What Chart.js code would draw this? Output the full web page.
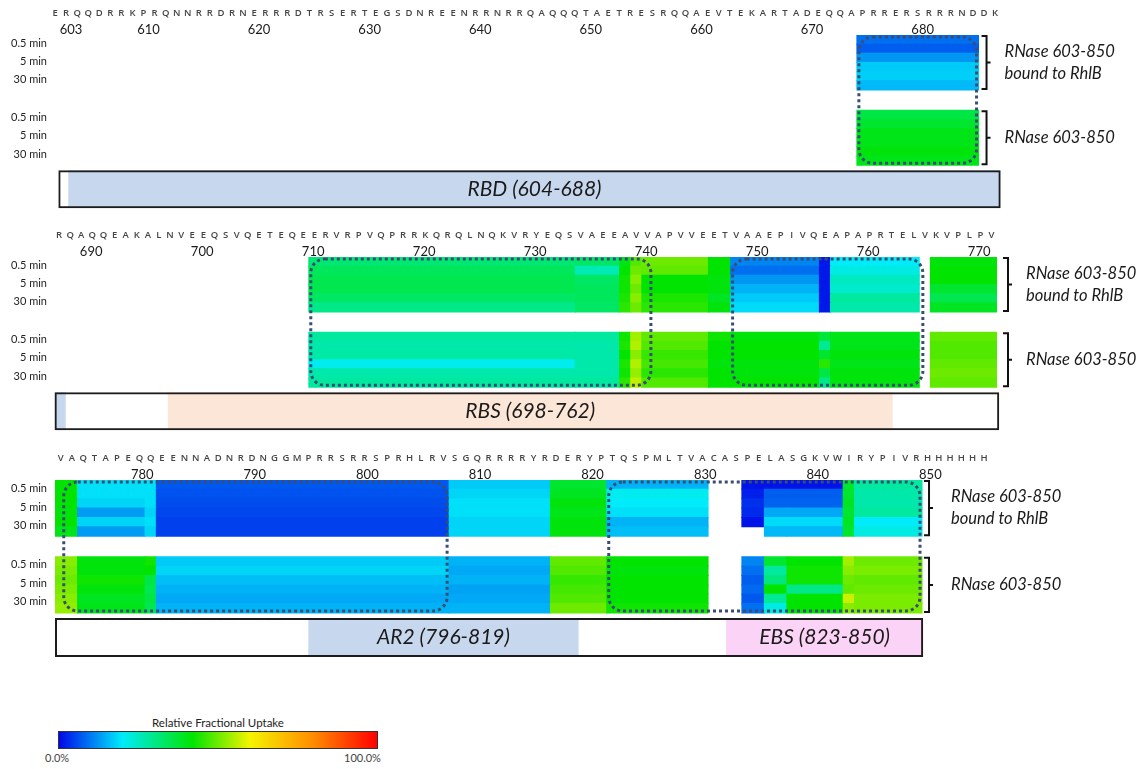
<!DOCTYPE html>
<html>
<head>
<meta charset="utf-8">
<title>RNase E 603-850 HDX heat map</title>
<script src="https://cdn.jsdelivr.net/npm/chart.js@4.4.0/dist/chart.umd.min.js"></script>
<style>
  body { margin: 0; background: #fff; width: 1140px; height: 769px; position: relative; overflow: hidden; font-family: Lato, "Open Sans", sans-serif; }
  canvas { position: absolute; left: 0; }
  .legend-title { position: absolute; left: 58px; width: 320px; top: 716px; text-align: center; font-size: 11.5px; color: #222; }
  .legend-bar { position: absolute; left: 58px; top: 731px; width: 318px; height: 16px; border: 1px solid #333; }
  .legend-lo, .legend-hi { position: absolute; top: 751px; font-size: 11px; color: #444; }
  .legend-lo { left: 45px; }
  .legend-hi { left: 344px; }
</style>
</head>
<body>
<canvas id="panel1" width="1140" height="215" style="top:0px"></canvas>
<canvas id="panel2" width="1140" height="215" style="top:222px"></canvas>
<canvas id="panel3" width="1140" height="219" style="top:445px"></canvas>
<div class="legend-title">Relative Fractional Uptake</div>
<div class="legend-bar" id="legendBar"></div>
<div class="legend-lo">0.0%</div>
<div class="legend-hi">100.0%</div>
<script>
// ---- data ----
const timeLabels = ['0.5 min', '5 min', '30 min'];
const stateLabels = [['RNase 603-850', 'bound to RhlB'], ['RNase 603-850']];

// panel 1 : residues 603-688
const seq1 = 'ERQQDRRKPRQNNRRDRNERRRDTRSERTEGS' + 'DNREENRRNRRQAQQQTAETRESRQQAEVTEKARTADE' + 'QQAPRRERSRRRNDDK';
const start1 = 603;
const numbers1 = [603, 610, 620, 630, 640, 650, 660, 670, 680];
const cols1 = [[676, 686]];
const bound1 = [[9], [7.5], [12.5], [17], [17.5], [15.5]];
const free1 = [[36], [38], [40], [40], [41], [40]];
const outlines1 = [[676, 686]];
const box1 = [603.3, 688.5];
const domains1 = [[604.2, 688.5]];
const domainNames1 = ['RBD (604-688)'];

// panel 2 : residues 689-773
const seq2 = 'RQAQQEAKALNVEEQSVQETEQEERVRPVQPRRKQRQLNQKVRYEQSVAEEAVVAPVVEETVAAEPIVQEAPAPRTELVKVPLPV';
const start2 = 689;
const numbers2 = [690, 700, 710, 720, 730, 740, 750, 760, 770];
const cols2 = [[712, 735], [736, 739], [740, 740], [741, 741], [742, 747], [748, 749], [750, 757], [758, 758], [759, 766], [768, 773]];
const bound2 = [
  [32, 33, 40, 48, 50, 42, 11, 1.5, 20, 41],
  [34, 26, 42, 50, 49, 42, 9, 1.5, 22, 42],
  [35, 33, 43, 52, 42, 41, 12.5, 1.5, 25, 42],
  [35, 34, 43, 50, 42, 41, 15, 1.5, 24, 38],
  [33, 34, 44, 52, 44, 39, 17, 1.5, 28, 35],
  [30, 33, 45, 50, 45, 41, 18.5, 1.5, 27, 39]
];
const free2 = [
  [28, 28, 43, 54, 49, 43, 41, 37, 40, 49],
  [27, 27, 44, 55, 48, 42, 42, 29, 40, 48],
  [27.5, 27, 42, 52, 46, 42, 42, 38, 41, 48],
  [21, 27, 44, 55, 47, 41, 41, 45, 40, 49],
  [27, 27, 43, 53, 45, 42, 41, 36, 41, 50],
  [28, 28, 45, 56, 48, 42, 42, 30, 41, 49]
];
const outlines2 = [[712, 742], [750, 766.5]];
const box2 = [688.6, 773.7];
const domains2 = [[688.6, 689.6], [698.8, 764.1]];
const domainNames2 = ['', 'RBS (698-762)'];

// panel 3 : residues 774-850 (+ His tag)
const seq3 = 'VAQTAPEQQEENNADNRDNGGMPRRSRRSPRHLRVSGQRRRRYRDERYPTQSPMLTVACASPELASGKVWIRYPIVRHHHHHH';
const start3 = 774;
const numbers3 = [780, 790, 800, 810, 820, 830, 840, 850];
const cols3 = [[774, 775], [776, 781], [782, 782], [783, 808], [809, 817], [818, 822], [823, 831], [835, 836], [837, 838], [839, 843], [844, 844], [845, 850]];
const bound3 = [
  [42, 19, 19, 7, 17, 38, 15, 1, 1, 1, 38, 28],
  [42, 19, 19, 6.5, 18, 39, 21, 2, 7.5, 7.5, 38, 27],
  [42, 18, 19, 6, 19, 41, 20, 3.5, 8, 8, 39, 27],
  [41, 13, 18, 5.5, 19, 40, 19, 3, 14, 14, 38, 28],
  [42, 18, 19, 5, 18, 41, 15, 1, 18.5, 18.5, 39, 20],
  [40, 13, 18, 5, 18, 41, 16, null, 15.5, 15.5, 38, 22]
];
const free3 = [
  [52, 41, 43, 17, 15, 49, 42, 11, 38, 42, 54, 50],
  [51, 41, 42, 18, 14, 48, 41, 9, 28, 43, 52, 51],
  [50, 43, 36, 16, 15, 46, 42, 7.5, 31, 43, 50, 49],
  [51, 41, 35, 15, 13.5, 47, 42, 8.5, 42, 30, 49, 50],
  [52, 39, 36, 14, 14, 48, 42, 7, 29, 42, 57, 51],
  [53, 40, 35, 15, 15, 50, 43, 9, 22, 42, 52, 51]
];
const outlines3 = [[774.6, 808], [823, 850]];
const box3 = [773.5, 850.6];
const domains3 = [[796.0, 820.0], [833.1, 850.6]];
const domainNames3 = ['AR2 (796-819)', 'EBS (823-850)'];

// ---- styles / layout ----
const uptakeStops = [[0, [0, 8, 232]], [20, [0, 236, 250]], [42, [0, 228, 0]], [60, [244, 244, 0]], [80, [255, 140, 0]], [100, [255, 0, 0]]];
const domainFills1 = ['#c6d7ee'];
const domainFills2 = ['#c6d7ee', '#fbe6d8'];
const domainFills3 = ['#c6d7ee', '#fbd3f6'];

const FREE_START = 8.2;   // y units: bound rows 0-6, free rows 8.2-14.2
const DOMAIN_Y = 16.825;
const Y_MAX = 18.9;
const rowTicks = [0.9, 2.9, 4.9, 9.0, 11.0, 13.0];

const lay1 = { canvasTop: 0, canvasH: 215, top: 35, chartH: 173.3, left: 49.5, perRes: 11.06, min: 602.5, max: 688.5, numOffset: 16, braceGap: 8, labelGap: 18, domainPx: 38 };
const lay2 = { canvasTop: 222, canvasH: 215, top: 257, chartH: 173.3, left: 53.5, perRes: 11.1, min: 688.5, max: 773.5, numOffset: 21, braceGap: 11, labelGap: 18, domainPx: 38 };
const lay3 = { canvasTop: 445, canvasH: 219, top: 480, chartH: 177, left: 55, perRes: 11.26, min: 773.5, max: 856.5, numOffset: 14, braceGap: 7, labelGap: 22, domainPx: 39 };

function uptakeColor(v) {
  for (let i = 1; i < uptakeStops.length; i++) {
    const [p1, c1] = uptakeStops[i];
    const [p0, c0] = uptakeStops[i - 1];
    if (v <= p1) {
      const t = (v - p0) / (p1 - p0);
      const c = c0.map((k, j) => Math.round(k + (c1[j] - k) * t));
      return 'rgb(' + c.join(',') + ')';
    }
  }
  return 'rgb(255,0,0)';
}

document.getElementById('legendBar').style.background =
  'linear-gradient(to right,' + uptakeStops.map(s => 'rgb(' + s[1].join(',') + ') ' + s[0] + '%').join(',') + ')';

function heatData(cols, bound, free) {
  const out = [];
  [bound, free].forEach((rows, s) => rows.forEach((vals, i) => vals.forEach((v, j) => {
    if (v === null) return;
    out.push({ x: [cols[j][0] - 0.5, cols[j][1] + 0.5], y: (s ? FREE_START : 0) + i + 0.5, v: v });
  })));
  return out;
}

function roundedPath(ctx, x, y, w, h, r) {
  ctx.beginPath();
  ctx.moveTo(x + r, y);
  ctx.arcTo(x + w, y, x + w, y + h, r);
  ctx.arcTo(x + w, y + h, x, y + h, r);
  ctx.arcTo(x, y + h, x, y, r);
  ctx.arcTo(x, y, x + w, y, r);
  ctx.closePath();
}

function decor(P) {
  return {
    id: 'decor',
    afterDatasetsDraw(chart) {
      const ctx = chart.ctx, xs = chart.scales.x, ys = chart.scales.y;
      ctx.save();
      // dotted outlines
      ctx.setLineDash([3, 3]);
      ctx.lineWidth = 3;
      ctx.strokeStyle = '#3b4d73';
      P.outlines.forEach(([a, b]) => {
        const x0 = xs.getPixelForValue(a - 0.5) + 2, x1 = xs.getPixelForValue(b + 0.5) - 2;
        const y0 = ys.getPixelForValue(0) + 2, y1 = ys.getPixelForValue(FREE_START + 6) - 2;
        roundedPath(ctx, x0, y0, x1 - x0, y1 - y0, 14);
        ctx.stroke();
      });
      ctx.setLineDash([]);

      // braces and state labels
      const edge = Math.max(...P.cols.map(c => c[1]));
      const bx = xs.getPixelForValue(edge + 0.5) + P.lay.braceGap;
      ctx.strokeStyle = '#111';
      ctx.lineWidth = 2;
      ctx.fillStyle = '#1a1a1a';
      ctx.font = 'italic 16.5px Lato';
      ctx.textAlign = 'left';
      ctx.textBaseline = 'middle';
      [0, FREE_START].forEach((s, k) => {
        const top = ys.getPixelForValue(s) + 1, bot = ys.getPixelForValue(s + 6) - 1, mid = (top + bot) / 2;
        ctx.beginPath();
        ctx.moveTo(bx - 5, top); ctx.lineTo(bx, top); ctx.lineTo(bx, bot); ctx.lineTo(bx - 5, bot);
        ctx.moveTo(bx, mid); ctx.lineTo(bx + 4, mid);
        ctx.stroke();
        const lines = stateLabels[k];
        lines.forEach((t, i) => ctx.fillText(t, bx + P.lay.labelGap, mid + (i - (lines.length - 1) / 2) * 22));
      });

      // domain names
      ctx.font = 'italic 21px Lato';
      ctx.textAlign = 'center';
      const dy = ys.getPixelForValue(DOMAIN_Y);
      P.domains.forEach(([a, b], i) => {
        if (P.domainNames[i]) ctx.fillText(P.domainNames[i], (xs.getPixelForValue(a) + xs.getPixelForValue(b)) / 2, dy);
      });
      ctx.restore();
    }
  };
}

function noPad(a) {
  a.paddingTop = 0; a.paddingBottom = 0; a.paddingLeft = 0; a.paddingRight = 0;
}

function makePanel(id, P) {
  const L = P.lay;
  const chartRight = L.left + (L.max - L.min) * L.perRes;
  const residues = [];
  for (let i = 0; i < P.seq.length; i++) residues.push(P.start + i);
  new Chart(document.getElementById(id), {
    type: 'bar',
    data: {
      datasets: [
        {
          label: 'box', data: [{ x: P.box, y: DOMAIN_Y }], order: 0, clip: false,
          backgroundColor: 'rgba(0,0,0,0)', borderColor: '#1c1c1c', borderWidth: 2, borderSkipped: false,
          barThickness: L.domainPx, inflateAmount: 0
        },
        {
          label: 'domains', data: P.domains.map(d => ({ x: d, y: DOMAIN_Y })), order: 1,
          backgroundColor: P.domainFills, borderWidth: 0, barThickness: L.domainPx, inflateAmount: 0
        },
        {
          label: 'uptake', data: heatData(P.cols, P.bound, P.free), order: 2,
          backgroundColor: c => (c.raw ? uptakeColor(c.raw.v) : 'rgba(0,0,0,0)'),
          borderWidth: 0, inflateAmount: 0.5
        }
      ]
    },
    options: {
      indexAxis: 'y',
      responsive: false,
      animation: false,
      grouped: false,
      barPercentage: 1,
      categoryPercentage: 1,
      layout: {
        autoPadding: false,
        padding: {
          left: 0,
          right: 1140 - chartRight,
          top: L.top - L.canvasTop - 31,
          bottom: L.canvasH - (L.top - L.canvasTop) - L.chartH
        }
      },
      plugins: { legend: { display: false }, title: { display: false }, tooltip: { enabled: false } },
      scales: {
        x: {
          type: 'linear', position: 'top', weight: 2, min: L.min, max: L.max, offset: false,
          grid: { display: false, drawTicks: false }, border: { display: false },
          afterBuildTicks: a => { a.ticks = residues.map(v => ({ value: v })); },
          afterFit: a => { a.height = 16; noPad(a); },
          ticks: {
            autoSkip: false, maxRotation: 0, padding: 1, color: '#454545',
            font: { family: 'Open Sans', size: 9.5, weight: '600' },
            callback: v => P.seq[v - P.start] || ''
          }
        },
        xn: {
          type: 'linear', position: 'top', weight: 1, min: L.min, max: L.max, offset: false,
          grid: { display: false, drawTicks: false }, border: { display: false },
          afterBuildTicks: a => { a.ticks = P.numbers.map(v => ({ value: v })); },
          afterFit: a => { a.height = 15; noPad(a); },
          ticks: {
            autoSkip: false, maxRotation: 0, padding: -1, labelOffset: L.numOffset, color: '#1a1a1a',
            font: { family: 'Lato', size: 13, lineHeight: 1 },
            callback: v => String(v)
          }
        },
        y: {
          type: 'linear', reverse: true, min: 0, max: Y_MAX, offset: false,
          grid: { display: false, drawTicks: false }, border: { display: false },
          afterBuildTicks: a => { a.ticks = rowTicks.map(v => ({ value: v })); },
          afterFit: a => { a.width = L.left; noPad(a); },
          ticks: {
            autoSkip: false, padding: L.left - 47, color: '#222',
            font: { family: 'Lato', size: 11 },
            callback: (v, i) => timeLabels[i % 3]
          }
        }
      }
    },
    plugins: [decor(P)]
  });
}

makePanel('panel1', { lay: lay1, seq: seq1, start: start1, numbers: numbers1, cols: cols1, bound: bound1, free: free1, outlines: outlines1, box: box1, domains: domains1, domainNames: domainNames1, domainFills: domainFills1 });
makePanel('panel2', { lay: lay2, seq: seq2, start: start2, numbers: numbers2, cols: cols2, bound: bound2, free: free2, outlines: outlines2, box: box2, domains: domains2, domainNames: domainNames2, domainFills: domainFills2 });
makePanel('panel3', { lay: lay3, seq: seq3, start: start3, numbers: numbers3, cols: cols3, bound: bound3, free: free3, outlines: outlines3, box: box3, domains: domains3, domainNames: domainNames3, domainFills: domainFills3 });
</script>
</body>
</html>
